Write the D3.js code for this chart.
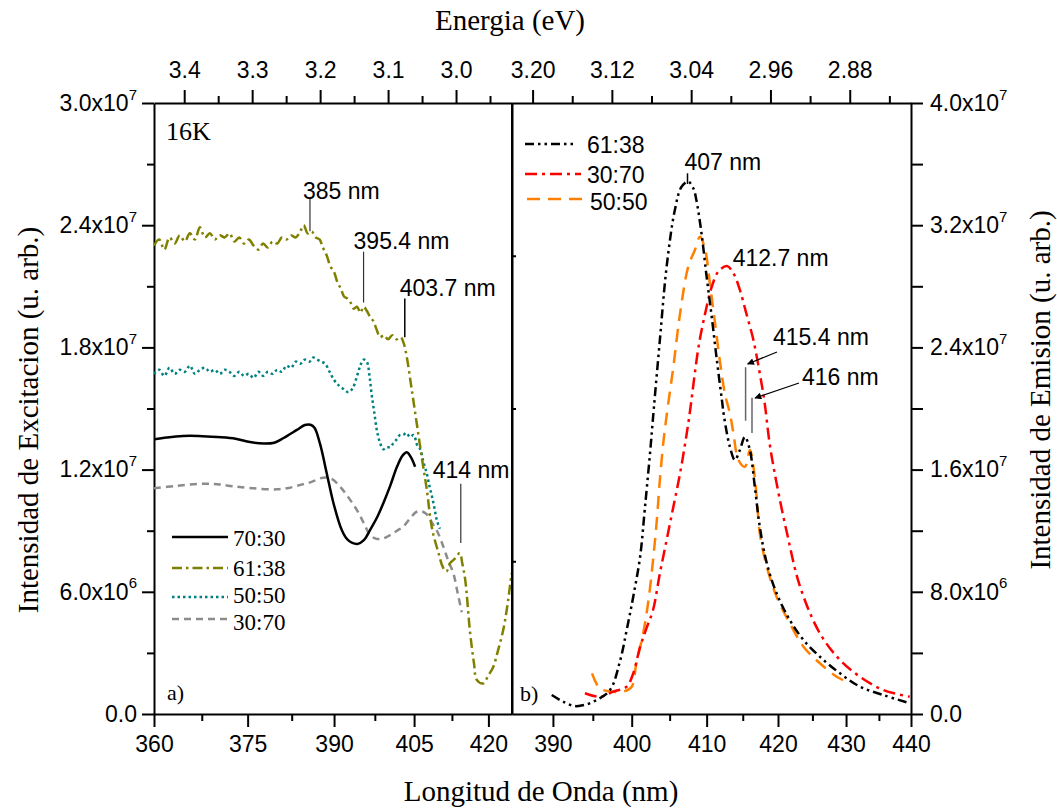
<!DOCTYPE html>
<html><head><meta charset="utf-8">
<script src="https://cdn.jsdelivr.net/npm/d3@7"></script>
<style>body{margin:0;background:#fff}svg{display:block}</style>
</head><body>
<svg id="c" width="1057" height="809"></svg>
<script>
const HC = 1240; // eV·nm, wavelength <-> energy

// ---------- Excitation (panel a), [wavelength nm, intensity] ----------
const ex7030 = [[360.0,1.349e7],[362.0,1.358e7],[364.5,1.365e7],[367.0,1.365e7],[370.0,1.360e7],[373.0,1.352e7],[375.4,1.335e7],[377.7,1.328e7],[379.5,1.332e7],[381.1,1.355e7],[383.4,1.395e7],[384.8,1.419e7],[385.8,1.420e7],[386.5,1.405e7],[387.5,1.325e7],[388.7,1.180e7],[389.9,1.035e7],[391.4,0.903e7],[392.5,0.855e7],[394.2,0.835e7],[395.5,0.855e7],[396.6,0.903e7],[398.0,0.970e7],[399.1,1.035e7],[400.4,1.120e7],[401.7,1.214e7],[402.8,1.270e7],[403.6,1.285e7],[404.4,1.260e7],[405.2,1.214e7]];

const ex6138 = [[360.0,2.30e7],[360.8,2.33e7],[361.6,2.28e7],[362.4,2.34e7],[363.2,2.31e7],[364.0,2.35e7],[364.8,2.32e7],[365.6,2.36e7],[366.4,2.33e7],[367.2,2.39e7],[368.0,2.34e7],[368.8,2.36e7],[369.6,2.33e7],[370.4,2.35e7],[371.2,2.34e7],[372.0,2.36e7],[372.8,2.32e7],[373.6,2.34e7],[374.4,2.31e7],[375.2,2.33e7],[376.0,2.30e7],[376.8,2.28e7],[377.6,2.31e7],[378.4,2.29e7],[379.2,2.32e7],[380.0,2.31e7],[380.8,2.34e7],[381.6,2.33e7],[382.4,2.35e7],[383.2,2.34e7],[384.0,2.37e7],[384.6,2.40e7],[385.3,2.36e7],[386.0,2.37e7],[386.7,2.34e7],[387.4,2.33e7],[388.0,2.29e7],[388.7,2.25e7],[389.3,2.20e7],[390.0,2.17e7],[390.6,2.12e7],[391.2,2.09e7],[391.8,2.05e7],[392.4,2.04e7],[393.0,2.02e7],[393.6,1.99e7],[394.2,2.00e7],[394.8,1.97e7],[395.4,2.00e7],[396.0,1.98e7],[396.6,1.95e7],[397.2,1.93e7],[397.8,1.89e7],[398.5,1.85e7],[399.2,1.86e7],[400.0,1.84e7],[400.8,1.86e7],[401.6,1.84e7],[402.4,1.85e7],[403.0,1.82e7],[403.6,1.75e7],[404.5,1.60e7],[405.5,1.43e7],[406.5,1.26e7],[407.5,1.10e7],[408.2,0.96e7],[408.7,0.89e7],[409.7,0.80e7],[410.7,0.72e7],[411.4,0.70e7],[412.1,0.74e7],[413.0,0.76e7],[414.1,0.79e7],[414.6,0.74e7],[415.2,0.66e7],[416.2,0.40e7],[417.0,0.25e7],[417.6,0.167e7],[418.9,0.15e7],[420.0,0.19e7],[421.0,0.23e7],[422.0,0.31e7],[423.1,0.41e7],[424.0,0.53e7],[424.9,0.69e7]];

const ex5050 = [[360.0,1.67e7],[360.8,1.69e7],[361.6,1.66e7],[362.4,1.70e7],[363.2,1.67e7],[364.0,1.69e7],[364.8,1.68e7],[365.6,1.71e7],[366.4,1.67e7],[367.2,1.69e7],[368.0,1.70e7],[368.8,1.68e7],[369.6,1.69e7],[370.4,1.67e7],[371.2,1.69e7],[372.0,1.68e7],[372.8,1.66e7],[373.6,1.68e7],[374.4,1.66e7],[375.2,1.67e7],[376.0,1.65e7],[376.8,1.68e7],[377.6,1.66e7],[378.4,1.68e7],[379.2,1.67e7],[380.0,1.69e7],[380.8,1.68e7],[381.6,1.71e7],[382.4,1.70e7],[383.2,1.73e7],[384.0,1.72e7],[384.8,1.74e7],[385.6,1.73e7],[386.3,1.75e7],[387.0,1.74e7],[387.7,1.73e7],[388.4,1.72e7],[389.2,1.68e7],[390.0,1.64e7],[390.6,1.62e7],[391.5,1.60e7],[392.6,1.58e7],[393.4,1.60e7],[394.2,1.66e7],[394.8,1.71e7],[395.4,1.74e7],[396.0,1.73e7],[396.5,1.66e7],[396.9,1.57e7],[397.4,1.48e7],[397.9,1.39e7],[398.5,1.33e7],[399.1,1.30e7],[399.7,1.31e7],[400.4,1.31e7],[401.0,1.33e7],[401.7,1.35e7],[402.3,1.37e7],[402.9,1.37e7],[403.5,1.38e7],[404.2,1.36e7],[404.9,1.37e7],[405.6,1.32e7],[406.2,1.30e7],[406.8,1.24e7],[407.5,1.18e7],[408.0,1.12e7],[408.5,1.07e7],[409.0,1.01e7],[409.5,0.95e7],[410.1,0.91e7]];

const ex3070 = [[360.0,1.108e7],[363.5,1.120e7],[367.2,1.130e7],[370.0,1.128e7],[372.6,1.118e7],[376.0,1.108e7],[379.9,1.103e7],[382.0,1.110e7],[384.0,1.125e7],[386.0,1.140e7],[388.0,1.160e7],[389.5,1.155e7],[391.1,1.116e7],[392.7,1.060e7],[394.2,1.000e7],[395.4,0.940e7],[396.6,0.879e7],[397.8,0.860e7],[399.1,0.862e7],[400.5,0.880e7],[401.7,0.900e7],[402.9,0.920e7],[404.2,0.960e7],[405.5,0.993e7],[406.5,0.995e7],[407.5,0.980e7],[408.5,0.940e7],[409.5,0.900e7],[410.8,0.820e7],[411.8,0.750e7],[412.8,0.690e7],[413.7,0.590e7],[414.5,0.500e7]];

// ---------- Emission (panel b), [wavelength nm, intensity] ----------
const em6138 = [[389.85,0.124e7],[391.3,0.080e7],[392.75,0.052e7],[394.0,0.060e7],[395.5,0.092e7],[397.2,0.157e7],[398.5,0.350e7],[399.35,0.550e7],[400.2,0.768e7],[401.1,1.030e7],[401.7,1.335e7],[402.4,1.707e7],[402.9,2.000e7],[403.7,2.448e7],[404.6,2.928e7],[405.7,3.300e7],[406.6,3.452e7],[407.5,3.485e7],[408.2,3.440e7],[408.6,3.365e7],[409.3,3.147e7],[410.0,2.863e7],[410.7,2.600e7],[411.4,2.318e7],[412.1,2.056e7],[412.4,1.946e7],[413.2,1.750e7],[413.9,1.663e7],[414.6,1.728e7],[415.3,1.815e7],[416.0,1.728e7],[416.7,1.488e7],[417.4,1.226e7],[418.4,0.986e7],[419.8,0.790e7],[421.7,0.615e7],[423.7,0.484e7],[426.1,0.375e7],[429.1,0.266e7],[432.1,0.179e7],[435.7,0.124e7],[439.8,0.070e7]];

const em3070 = [[394.0,0.136e7],[395.9,0.113e7],[397.6,0.146e7],[399.35,0.179e7],[400.2,0.266e7],[401.1,0.440e7],[402.0,0.570e7],[402.8,0.681e7],[403.7,0.920e7],[404.6,1.139e7],[405.5,1.357e7],[406.4,1.576e7],[407.3,1.838e7],[407.7,1.969e7],[408.9,2.405e7],[409.8,2.623e7],[410.7,2.797e7],[411.6,2.896e7],[412.8,2.933e7],[413.7,2.885e7],[414.6,2.776e7],[415.5,2.623e7],[416.5,2.448e7],[417.4,2.230e7],[418.1,2.034e7],[418.8,1.772e7],[419.8,1.510e7],[421.3,1.183e7],[423.2,0.833e7],[426.1,0.528e7],[429.1,0.353e7],[432.1,0.244e7],[435.7,0.157e7],[439.8,0.113e7]];

const em5050 = [[394.9,0.266e7],[395.9,0.168e7],[397.6,0.146e7],[398.9,0.146e7],[400.0,0.179e7],[400.6,0.332e7],[401.5,0.528e7],[402.2,0.746e7],[402.8,1.008e7],[403.3,1.270e7],[403.7,1.532e7],[404.2,1.794e7],[404.7,1.990e7],[405.5,2.274e7],[406.4,2.623e7],[407.5,2.928e7],[408.4,3.038e7],[409.1,3.125e7],[409.8,3.038e7],[410.5,2.797e7],[411.1,2.579e7],[411.8,2.318e7],[412.5,2.100e7],[413.2,1.969e7],[413.7,1.838e7],[414.4,1.663e7],[415.3,1.619e7],[416.0,1.728e7],[416.5,1.619e7],[417.0,1.401e7],[417.4,1.183e7],[418.4,0.964e7],[419.8,0.768e7],[421.7,0.594e7],[423.7,0.440e7],[426.1,0.332e7],[428.6,0.244e7],[430.1,0.211e7]];

// ---------- Ticks ----------
const topLeftMajor = [3.4,3.3,3.2,3.1,3.0];
const topLeftMinor = [3.35,3.25,3.15,3.05,2.95];
const topRightMajor = [3.20,3.12,3.04,2.96,2.88];
const topRightMinor = [3.16,3.08,3.00,2.92,2.84];
const botLeftMajor = [360,375,390,405,420];
const botLeftMinor = [367.5,382.5,397.5,412.5];
const botRightMajor = [390,400,410,420,430,440];
const botRightMinor = [395,405,415,425,435];
const yLeftMajor = [0,6e6,1.2e7,1.8e7,2.4e7,3.0e7];
const yLeftMinor = [3e6,9e6,1.5e7,2.1e7,2.7e7];
const yRightMajor = [0,8e6,1.6e7,2.4e7,3.2e7,4.0e7];
const yRightMinor = [4e6,1.2e7,2.0e7,2.8e7,3.6e7];
const yMidTicks = [1e7,2e7,3e7];

const leftLabels = ["70:30","61:38","50:50","30:70"];
const rightLabels = ["61:38","30:70","50:50"];

// ---------- Layout ----------
const X0 = 154, XM = 512, X1 = 911, YT = 103, YB = 714;
const SANS = "'Liberation Sans', Arial, Helvetica, sans-serif";
const SERIF = "'Liberation Serif', 'Times New Roman', Times, serif";

const xL = d3.scaleLinear().domain([HC/360, HC/425]).range([X0, XM]);
const xR = d3.scaleLinear().domain([HC/385, HC/440]).range([XM, X1]);
const yL = d3.scaleLinear().domain([0, 3e7]).range([YB, YT]);
const yR = d3.scaleLinear().domain([0, 4e7]).range([YB, YT]);
const wl = w => HC / w;

const svg = d3.select("#c");
svg.append("rect").attr("width",1057).attr("height",809).attr("fill","#fff");

const defs = svg.append("defs");
defs.append("clipPath").attr("id","clipL").append("rect").attr("x",X0).attr("y",YT).attr("width",XM-X0).attr("height",YB-YT);
defs.append("clipPath").attr("id","clipR").append("rect").attr("x",XM).attr("y",YT).attr("width",X1-XM).attr("height",YB-YT);
defs.append("marker").attr("id","arr").attr("viewBox","0 0 10 10").attr("refX",9).attr("refY",5)
  .attr("markerWidth",10).attr("markerHeight",7).attr("markerUnits","userSpaceOnUse").attr("orient","auto")
  .append("path").attr("d","M0,0 L10,5 L0,10 Z").attr("fill","#000");

function styleAxis(g, fs){
  g.selectAll("path.domain").attr("stroke","#000").attr("stroke-width",2);
  g.selectAll(".tick line").attr("stroke","#000").attr("stroke-width",2);
  g.selectAll(".tick text").attr("font-family",SANS).attr("font-size",fs||23).attr("fill","#000");
}
function minorAxis(axis, transform){
  const g = svg.append("g").attr("transform",transform).call(axis);
  g.select("path.domain").remove();
  g.selectAll(".tick text").remove();
  g.selectAll(".tick line").attr("stroke","#000").attr("stroke-width",2);
  return g;
}
function sciLabel(g){
  g.selectAll(".tick text").each(function(d){
    const t = d3.select(this); t.text(null);
    if (d === 0){ t.append("tspan").text("0.0"); return; }
    const e = Math.floor(Math.log10(d) + 1e-9);
    const m = d / Math.pow(10, e);
    t.append("tspan").text(m.toFixed(1) + "x10");
    t.append("tspan").attr("font-size",15).attr("dy","-0.75em").text(e);
  });
}

// top axes
let g = svg.append("g").attr("transform",`translate(0,${YT})`)
  .call(d3.axisTop(xL).tickValues(topLeftMajor).tickSize(13).tickSizeOuter(0).tickPadding(12).tickFormat(d3.format(".1f")));
styleAxis(g);
minorAxis(d3.axisTop(xL).tickValues(topLeftMinor).tickSize(7), `translate(0,${YT})`);
g = svg.append("g").attr("transform",`translate(0,${YT})`)
  .call(d3.axisTop(xR).tickValues(topRightMajor).tickSize(13).tickSizeOuter(0).tickPadding(12).tickFormat(d3.format(".2f")));
styleAxis(g);
minorAxis(d3.axisTop(xR).tickValues(topRightMinor).tickSize(7), `translate(0,${YT})`);

// bottom axes (wavelength labels on an energy-linear scale)
g = svg.append("g").attr("transform",`translate(0,${YB})`)
  .call(d3.axisBottom(xL).tickValues(botLeftMajor.map(wl)).tickSize(13).tickSizeOuter(0).tickPadding(9).tickFormat(e => Math.round(HC/e)));
styleAxis(g);
minorAxis(d3.axisBottom(xL).tickValues(botLeftMinor.map(wl)).tickSize(7), `translate(0,${YB})`);
g = svg.append("g").attr("transform",`translate(0,${YB})`)
  .call(d3.axisBottom(xR).tickValues(botRightMajor.map(wl)).tickSize(13).tickSizeOuter(0).tickPadding(9).tickFormat(e => Math.round(HC/e)));
styleAxis(g);
minorAxis(d3.axisBottom(xR).tickValues(botRightMinor.map(wl)).tickSize(7), `translate(0,${YB})`);

// left y axis
g = svg.append("g").attr("transform",`translate(${X0},0)`)
  .call(d3.axisLeft(yL).tickValues(yLeftMajor).tickSize(12).tickSizeOuter(0).tickPadding(5));
styleAxis(g); sciLabel(g);
minorAxis(d3.axisLeft(yL).tickValues(yLeftMinor).tickSize(7), `translate(${X0},0)`);

// right y axis
g = svg.append("g").attr("transform",`translate(${X1},0)`)
  .call(d3.axisRight(yR).tickValues(yRightMajor).tickSize(12).tickSizeOuter(0).tickPadding(7));
styleAxis(g); sciLabel(g);
minorAxis(d3.axisRight(yR).tickValues(yRightMinor).tickSize(12), `translate(${X1},0)`);

// middle divider
g = svg.append("g").attr("transform",`translate(${XM},0)`)
  .call(d3.axisRight(yR).tickValues(yMidTicks).tickSize(4).tickSizeOuter(0).tickFormat(""));
styleAxis(g);

// ---------- Series ----------
function drawLine(data, xs, ys, color, dash, clip, w){
  const line = d3.line().x(d => xs(wl(d[0]))).y(d => ys(d[1])).curve(d3.curveCatmullRom.alpha(0.5));
  svg.append("path").datum(data).attr("d", line).attr("fill","none")
    .attr("stroke",color).attr("stroke-width",w||2.5).attr("stroke-dasharray",dash)
    .attr("stroke-linejoin","round").attr("clip-path",`url(#${clip})`);
}
const C_OLIVE = "#808000", C_TEAL = "#008080", C_GRAY = "#8c8c8c", C_RED = "#ff0000", C_ORANGE = "#ff8000";
const D_OLIVE = "10,4,2.5,4", D_TEAL = "2.5,3", D_GRAY = "7,5", D_BLACK = "9,4,2.5,4,2.5,4", D_RED = "12,5,3,5", D_ORANGE = "13,8";

drawLine(ex3070, xL, yL, C_GRAY, D_GRAY, "clipL");
drawLine(ex7030, xL, yL, "#000", null, "clipL");
drawLine(ex5050, xL, yL, C_TEAL, D_TEAL, "clipL");
drawLine(ex6138, xL, yL, C_OLIVE, D_OLIVE, "clipL");

drawLine(em5050, xR, yR, C_ORANGE, D_ORANGE, "clipR");
drawLine(em3070, xR, yR, C_RED, D_RED, "clipR");
drawLine(em6138, xR, yR, "#000", D_BLACK, "clipR");

svg.append("line").attr("x1",XM).attr("x2",XM).attr("y1",YT).attr("y2",YB).attr("stroke","#000").attr("stroke-width",2);

// ---------- Annotations ----------
function txt(x, y, s, fs, fam, anchor){
  return svg.append("text").attr("x",x).attr("y",y).attr("font-family",fam||SANS).attr("font-size",fs||23)
    .attr("text-anchor",anchor||"start").attr("fill","#000").text(s);
}
function vline(x, y1, y2, col, w){
  svg.append("line").attr("x1",x).attr("x2",x).attr("y1",y1).attr("y2",y2).attr("stroke",col||"#333").attr("stroke-width",w||1);
}
// panel a
vline(xL(wl(385.7)), yL(2.53e7), yL(2.37e7), "#333", 1.2); txt(xL(wl(385.7))-7, yL(2.53e7), "385 nm");
vline(xL(wl(395.4)), yL(2.27e7), yL(2.02e7), "#333", 1.2); txt(xL(wl(395.4))-10, yL(2.27e7)-3, "395.4 nm");
vline(xL(wl(403.2)), yL(2.04e7), yL(1.85e7), "#000", 1.5); txt(xL(wl(403.2))-5, yL(2.04e7)-3, "403.7 nm");
vline(xL(wl(414.3)), yL(1.13e7), yL(0.84e7), "#333", 1.2); txt(xL(wl(414.3))-28, yL(1.16e7), "414 nm");
txt(166, 140, "16K", 26, SERIF);
txt(167, 700, "a)", 22, SERIF);

// panel b
vline(xR(wl(407.4)), yR(3.54e7), yR(3.47e7), "#000", 1.5); txt(xR(wl(407.4))-3, yR(3.56e7), "407 nm");
txt(xR(wl(412.9))+5, yR(2.93e7), "412.7 nm");
vline(xR(wl(415.4)), yR(2.27e7), yR(1.92e7), "#666", 1.5);
vline(xR(wl(416.3)), yR(2.07e7), yR(1.84e7), "#666", 1.5);
txt(773, 345, "415.4 nm");
txt(802, 385, "416 nm");
svg.append("line").attr("x1",777).attr("y1",352).attr("x2",xR(wl(415.4))+2).attr("y2",364).attr("stroke","#000").attr("stroke-width",1.3).attr("marker-end","url(#arr)");
svg.append("line").attr("x1",799).attr("y1",383).attr("x2",xR(wl(416.3))+3).attr("y2",398).attr("stroke","#000").attr("stroke-width",1.3).attr("marker-end","url(#arr)");
txt(520, 701, "b)", 22, SERIF);

// ---------- Legends ----------
const legL = [
  {c:"#000", d:null, y:537, ty:546},
  {c:C_OLIVE, d:D_OLIVE, y:568, ty:576},
  {c:C_TEAL, d:D_TEAL, y:597, ty:603},
  {c:C_GRAY, d:D_GRAY, y:619, ty:630}
];
legL.forEach((L, i) => {
  svg.append("line").attr("x1",172).attr("x2",228).attr("y1",L.y).attr("y2",L.y)
    .attr("stroke",L.c).attr("stroke-width",2.5).attr("stroke-dasharray",L.d);
  txt(233, L.ty, leftLabels[i], 23, SERIF);
});
const legR = [
  {c:"#000", d:D_BLACK, y:144, ty:153, x1:525, x2:576, tx:587},
  {c:C_RED, d:D_RED, y:174, ty:183, x1:525, x2:581, tx:587},
  {c:C_ORANGE, d:D_ORANGE, y:199, ty:210, x1:527, x2:582, tx:590}
];
legR.forEach((L, i) => {
  svg.append("line").attr("x1",L.x1).attr("x2",L.x2).attr("y1",L.y).attr("y2",L.y)
    .attr("stroke",L.c).attr("stroke-width",2.5).attr("stroke-dasharray",L.d);
  txt(L.tx, L.ty, rightLabels[i], 23);
});

// ---------- Axis titles ----------
txt(510, 30, "Energia (eV)", 29, SERIF, "middle");
txt(541, 801, "Longitud de Onda (nm)", 29, SERIF, "middle");
svg.append("text").attr("transform","translate(38,420) rotate(-90)").attr("text-anchor","middle")
  .attr("font-family",SERIF).attr("font-size",29).text("Intensidad de Excitacion (u. arb.)");
svg.append("text").attr("transform","translate(1050,390) rotate(-90)").attr("text-anchor","middle")
  .attr("font-family",SERIF).attr("font-size",29).text("Intensidad de Emision (u. arb.)");
</script>
</body></html>
